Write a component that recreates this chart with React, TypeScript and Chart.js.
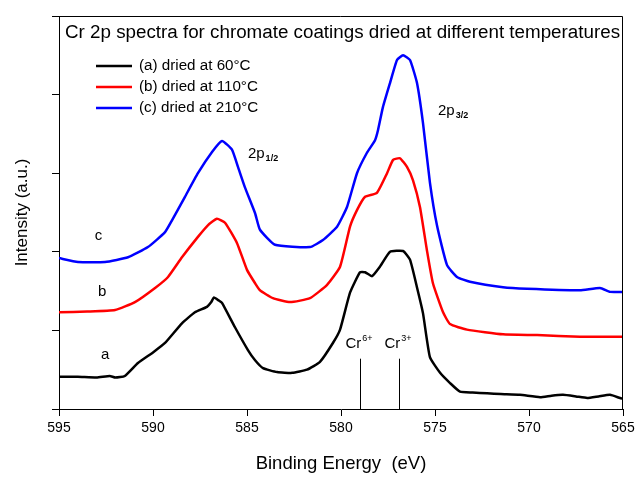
import React, { useEffect, useRef } from 'react';
import { Chart, registerables } from 'chart.js';

Chart.register(...registerables);

const chartTitle = 'Cr 2p spectra for chromate coatings dried at different temperatures';
const seriesNames = ['(a) dried at 60°C', '(b) dried at 110°C', '(c) dried at 210°C'];
const curveLetters = ['a', 'b', 'c'];
const seriesColors = ['#000000', '#ff0000', '#0000ff'];
const xTickValues = [595, 590, 585, 580, 575, 570, 565];

const energyA = [595.0, 594.0, 593.0, 592.3, 592.0, 591.5, 590.8, 590.0, 589.36, 588.46, 587.77, 587.13, 586.9, 586.76, 586.5, 586.33, 585.64, 584.95, 584.57, 584.15, 583.4, 582.6, 581.81, 581.12, 580.43, 580.05, 579.52, 578.99, 578.72, 578.35, 577.93, 577.39, 576.7, 576.33, 575.96, 575.64, 575.27, 574.73, 574.2, 573.67, 573.0, 572.23, 571.5, 570.48, 569.41, 568.8, 568.19, 567.5, 566.91, 566.3, 565.69, 565.16, 565.0];
const intensityA = [0.41, 0.41, 0.40, 0.42, 0.40, 0.42, 0.585, 0.72, 0.84, 1.09, 1.23, 1.30, 1.36, 1.42, 1.38, 1.35, 1.04, 0.75, 0.62, 0.52, 0.47, 0.46, 0.50, 0.60, 0.84, 1.01, 1.48, 1.74, 1.74, 1.69, 1.81, 2.00, 2.01, 1.90, 1.55, 1.22, 0.66, 0.46, 0.33, 0.22, 0.21, 0.20, 0.19, 0.18, 0.15, 0.17, 0.18, 0.16, 0.14, 0.16, 0.18, 0.14, 0.13];

const energyB = [595.0, 593.5, 592.02, 590.96, 589.89, 589.2, 588.46, 587.61, 587.07, 586.6, 586.17, 585.53, 585.0, 584.57, 584.31, 583.62, 582.71, 581.65, 580.74, 580.05, 579.52, 579.15, 578.72, 578.09, 577.55, 577.23, 576.86, 576.49, 576.17, 575.8, 575.43, 575.11, 574.57, 574.2, 573.3, 571.38, 569.57, 567.29, 565.0];
const intensityB = [1.23, 1.24, 1.26, 1.36, 1.54, 1.68, 1.93, 2.19, 2.34, 2.42, 2.37, 2.11, 1.77, 1.60, 1.51, 1.41, 1.36, 1.41, 1.58, 1.81, 2.32, 2.53, 2.70, 2.75, 3.00, 3.17, 3.19, 3.08, 2.91, 2.57, 2.02, 1.60, 1.23, 1.08, 1.01, 0.95, 0.94, 0.92, 0.92];

const energyC = [595.0, 593.99, 592.55, 591.33, 590.27, 589.36, 588.99, 588.3, 587.61, 586.86, 586.33, 585.8, 585.48, 585.11, 584.57, 584.31, 583.51, 581.65, 580.96, 580.21, 579.68, 579.15, 578.62, 578.19, 578.03, 577.77, 577.39, 577.02, 576.7, 576.33, 575.96, 575.64, 575.27, 574.89, 574.36, 573.83, 573.14, 571.38, 570.11, 567.29, 566.22, 565.69, 565.0];
const intensityC = [1.92, 1.87, 1.87, 1.93, 2.06, 2.25, 2.40, 2.70, 3.00, 3.27, 3.41, 3.30, 3.08, 2.82, 2.49, 2.28, 2.09, 2.06, 2.15, 2.32, 2.57, 3.00, 3.26, 3.42, 3.55, 3.84, 4.15, 4.44, 4.50, 4.44, 4.15, 3.64, 2.88, 2.33, 1.83, 1.68, 1.62, 1.55, 1.53, 1.51, 1.54, 1.49, 1.49];

const markerEnergies = [579.0, 576.9];
const markerIons = ['6+', '3+'];
const markerTop = 0.64;

const FONT = '"Liberation Sans", Arial, Helvetica, sans-serif';

function toPoints(xs: number[], ys: number[]) {
  return xs.map((v, i) => ({ x: v, y: ys[i] }));
}

function drawScripted(ctx: CanvasRenderingContext2D, x: number, y: number, base: string, script: string, baseSize: number, scriptSize: number, dy: number, bold: boolean) {
  ctx.font = `${baseSize}px ${FONT}`;
  ctx.textAlign = 'left';
  ctx.textBaseline = 'alphabetic';
  ctx.fillText(base, x, y);
  const w = ctx.measureText(base).width;
  ctx.font = `${bold ? 'bold ' : ''}${scriptSize}px ${FONT}`;
  ctx.fillText(script, x + w + 1, y + dy);
}

const decorPlugin = {
  id: 'decor',
  afterDraw(chart: any) {
    const { ctx, chartArea: a, scales } = chart;
    const xs = scales.x;
    const ys = scales.y;
    ctx.save();
    ctx.strokeStyle = '#000';
    ctx.lineWidth = 1;
    ctx.beginPath();
    ctx.moveTo(a.left, a.top + 0.5);
    ctx.lineTo(a.right - 0.5, a.top + 0.5);
    ctx.lineTo(a.right - 0.5, a.bottom);
    ctx.stroke();

    ctx.fillStyle = '#000';
    ctx.font = `18.8px ${FONT}`;
    ctx.textAlign = 'left';
    ctx.textBaseline = 'middle';
    ctx.fillText(chartTitle, a.left + 6, a.top + 17);

    seriesNames.forEach((name, i) => {
      const yy = a.top + 50 + i * 21;
      ctx.strokeStyle = seriesColors[i];
      ctx.lineWidth = 2.5;
      ctx.beginPath();
      ctx.moveTo(a.left + 37, yy);
      ctx.lineTo(a.left + 73, yy);
      ctx.stroke();
      ctx.fillStyle = '#000';
      ctx.font = `15.2px ${FONT}`;
      ctx.textBaseline = 'middle';
      ctx.textAlign = 'left';
      ctx.fillText(name, a.left + 80, yy);
    });

    ctx.strokeStyle = '#000';
    ctx.lineWidth = 1;
    markerEnergies.forEach((e, i) => {
      const px = Math.round(xs.getPixelForValue(e)) + 0.5;
      ctx.beginPath();
      ctx.moveTo(px, ys.getPixelForValue(markerTop));
      ctx.lineTo(px, ys.getPixelForValue(0));
      ctx.stroke();
      ctx.fillStyle = '#000';
      drawScripted(ctx, px - 15, ys.getPixelForValue(0.77), 'Cr', markerIons[i], 15, 9, -7, false);
    });

    const letterPos = [[592.55, 0.69], [592.7, 1.49], [592.9, 2.2]];
    ctx.font = `15px ${FONT}`;
    ctx.textAlign = 'center';
    ctx.textBaseline = 'middle';
    curveLetters.forEach((l, i) => {
      ctx.fillText(l, xs.getPixelForValue(letterPos[i][0]), ys.getPixelForValue(letterPos[i][1]));
    });

    ctx.fillStyle = '#000';
    drawScripted(ctx, xs.getPixelForValue(584.95), ys.getPixelForValue(3.19), '2p', '1/2', 15, 9, 3, true);
    drawScripted(ctx, xs.getPixelForValue(574.84), ys.getPixelForValue(3.74), '2p', '3/2', 15, 9, 3, true);
    ctx.restore();
  },
};

export default function App() {
  const canvasRef = useRef<HTMLCanvasElement | null>(null);

  useEffect(() => {
    if (!canvasRef.current) return;
    const chart = new Chart(canvasRef.current, {
      type: 'line',
      data: {
        datasets: [
          { label: seriesNames[0], data: toPoints(energyA, intensityA), borderColor: seriesColors[0], backgroundColor: seriesColors[0], borderWidth: 2.5, pointRadius: 0, tension: 0.15, fill: false },
          { label: seriesNames[1], data: toPoints(energyB, intensityB), borderColor: seriesColors[1], backgroundColor: seriesColors[1], borderWidth: 2.5, pointRadius: 0, tension: 0.15, fill: false },
          { label: seriesNames[2], data: toPoints(energyC, intensityC), borderColor: seriesColors[2], backgroundColor: seriesColors[2], borderWidth: 2.5, pointRadius: 0, tension: 0.15, fill: false },
        ],
      },
      options: {
        responsive: false,
        animation: false,
        devicePixelRatio: 1,
        layout: { padding: { top: 16, right: 16, left: 0, bottom: 0 } },
        plugins: { legend: { display: false }, tooltip: { enabled: false }, title: { display: false } },
        scales: {
          x: {
            type: 'linear',
            reverse: true,
            min: 565,
            max: 595,
            afterFit: (s: any) => { s.height = 69; },
            afterBuildTicks: (s: any) => { s.ticks = xTickValues.map((v) => ({ value: v })); },
            ticks: { color: '#000', font: { family: FONT, size: 14 }, padding: 4, maxRotation: 0, autoSkip: false },
            grid: { display: true, drawOnChartArea: false, drawTicks: true, tickLength: 7, color: '#000', tickColor: '#000' },
            border: { display: true, color: '#000', width: 1 },
            title: { display: true, text: 'Binding Energy  (eV)', color: '#000', font: { family: FONT, size: 18.5 }, padding: { top: 0, bottom: 3 } },
          },
          y: {
            type: 'linear',
            min: 0,
            max: 5,
            afterFit: (s: any) => { s.width = 59; },
            ticks: { stepSize: 1, callback: () => '', color: '#000' },
            grid: { display: true, drawOnChartArea: false, drawTicks: true, tickLength: 7, color: '#000', tickColor: '#000' },
            border: { display: true, color: '#000', width: 1 },
            title: { display: true, text: 'Intensity (a.u.)', color: '#000', font: { family: FONT, size: 17 }, padding: { top: 12, bottom: 0 } },
          },
        },
      },
      plugins: [decorPlugin],
    } as any);
    return () => chart.destroy();
  }, []);

  return (
    <div style={{ position: 'absolute', left: 0, top: 0, width: 639, height: 478, background: '#fff' }}>
      <canvas ref={canvasRef} width={639} height={478} />
    </div>
  );
}
